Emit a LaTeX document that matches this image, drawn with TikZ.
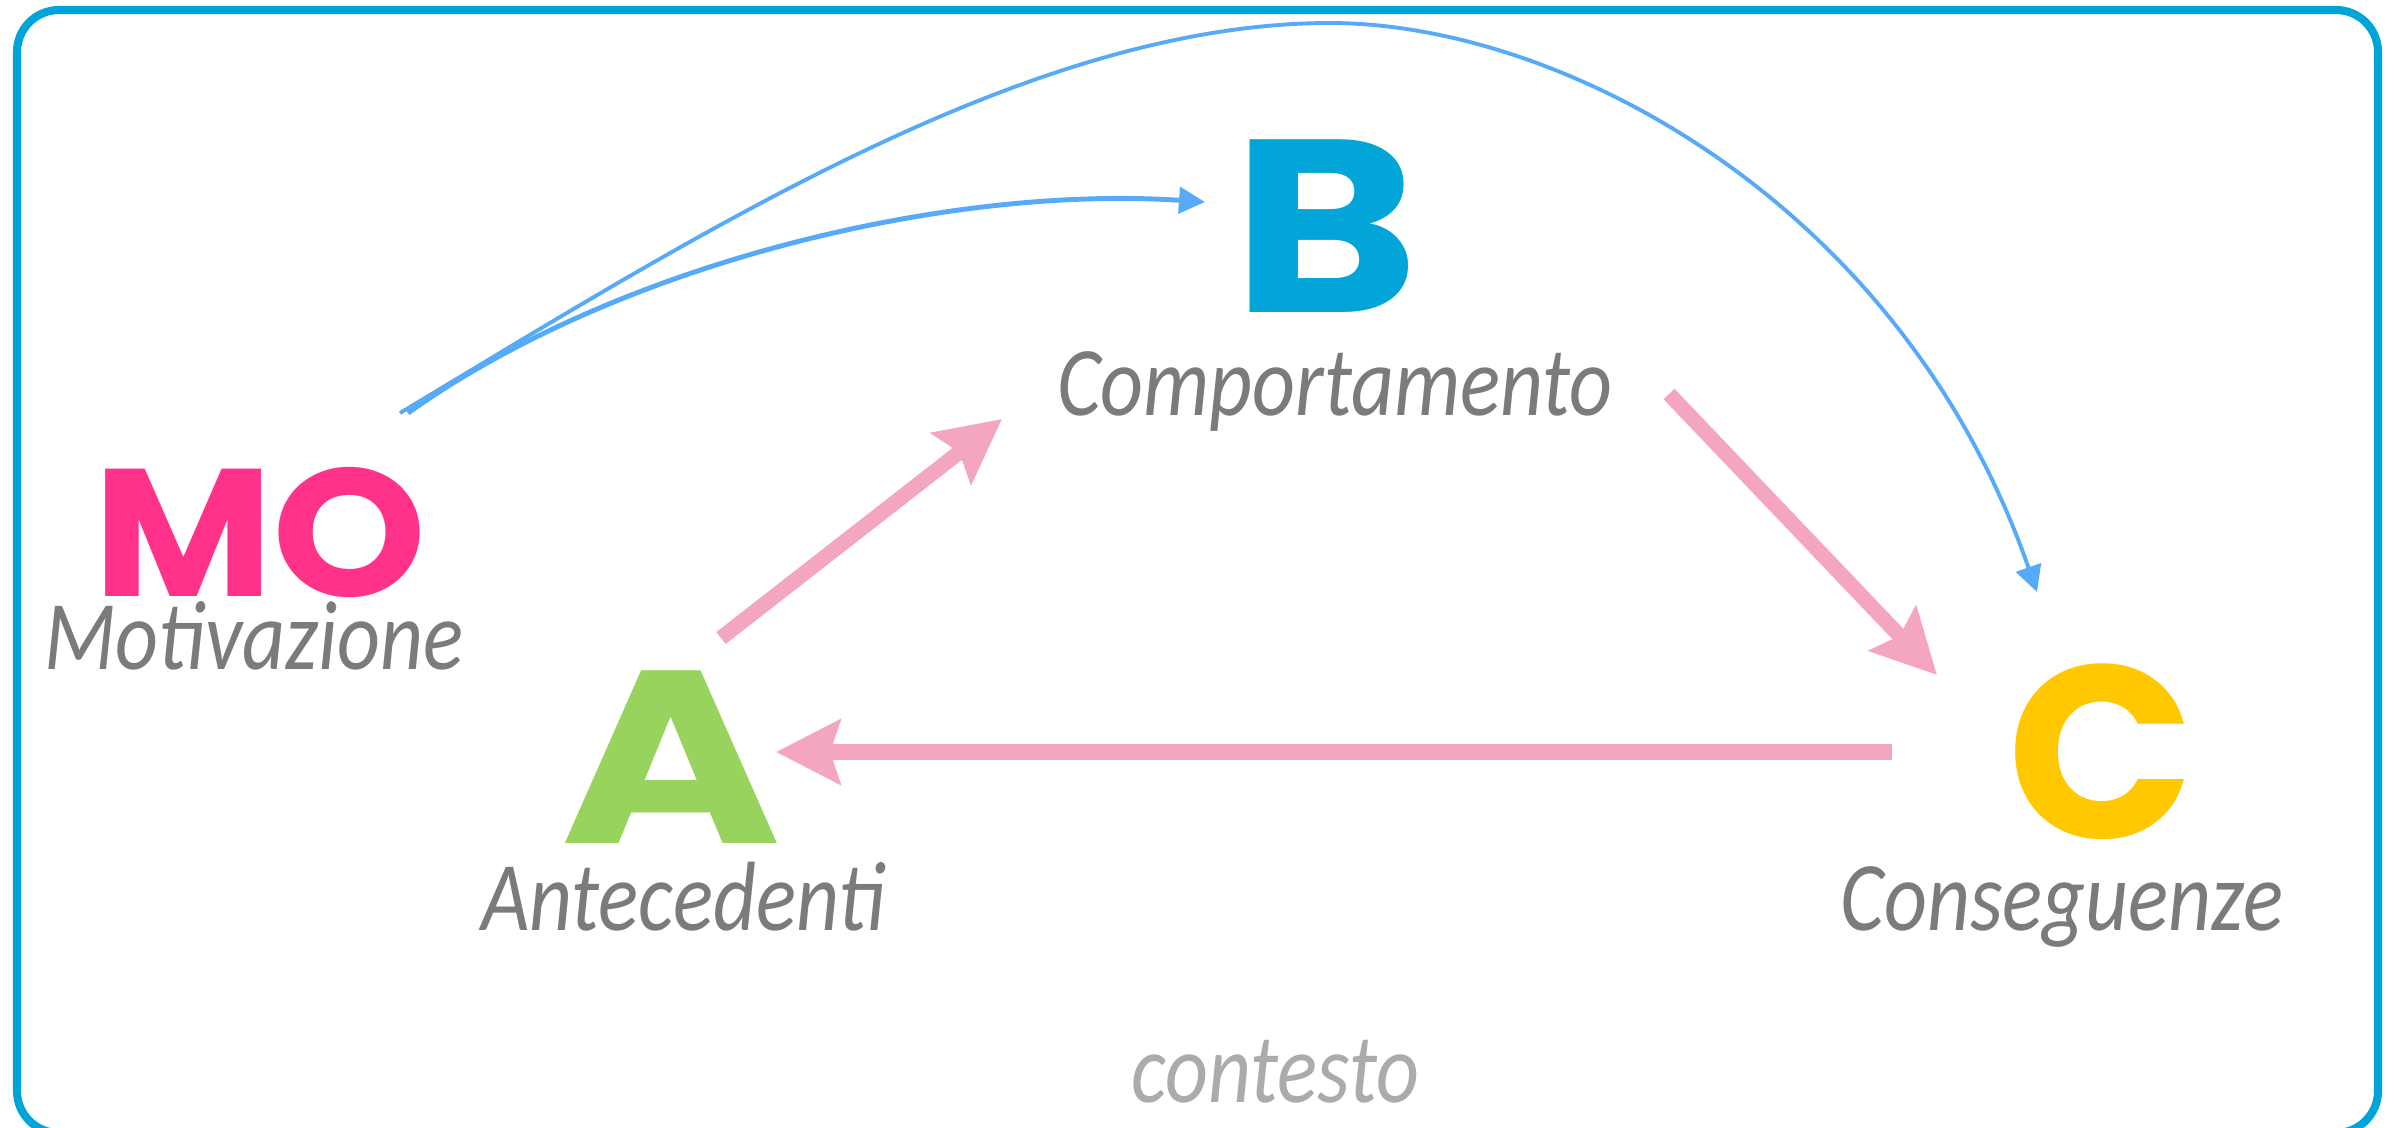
\documentclass[tikz,border=0pt]{standalone}
\usepackage{fontspec}
\usepackage{graphicx}
\usepackage{xcolor}
\usepackage{tikz}
\usetikzlibrary{arrows.meta}
\newfontfamily\letterfont{Poppins}
\newfontfamily\labelfont{Carlito}[FakeStretch=0.85]
\definecolor{boxblue}{HTML}{00A4D9}
\definecolor{mopink}{HTML}{FF3189}
\definecolor{bblue}{HTML}{02A5D8}
\definecolor{agreen}{HTML}{98D35E}
\definecolor{cyellow}{HTML}{FFC800}
\definecolor{labgray}{HTML}{7B7B7B}
\definecolor{ctxgray}{HTML}{ABABAB}
\definecolor{flowpink}{HTML}{F4A5C1}
\definecolor{linkblue}{HTML}{56AAF7}
\tikzset{
  box/.style={draw=boxblue, line width=2.3pt, rounded corners=4.2mm},
  letter/.style={inner sep=0pt, anchor=base, font=\letterfont\bfseries\fontsize{#1}{#1}\selectfont},
  lab/.style={inner sep=0pt, anchor=base, text=labgray, font=\labelfont\itshape\fontsize{28}{28}\selectfont},
  flow/.style={draw=flowpink, line width=4.3pt, -{Stealth[length=6.4mm,width=6.4mm,inset=1mm]}},
  link/.style={draw=linkblue, line width=1.4pt, -{Triangle[length=2.6mm,width=2.6mm]}}
}

\begin{document}
\begin{tikzpicture}[x=0.01cm, y=-0.01cm]
  \useasboundingbox (0,0) rectangle (2394,1127);
  \clip (0,0) rectangle (2394,1127);
  \draw[box] (17,10) rectangle (2378,1133);

  % letters and their labels
  \node[letter=51.6, text=mopink] (mo) at (260,596) {\scalebox{1.08}[1]{MO}};
  \node[lab] (molab) at (254,669) {Motivazione};
  \node[letter=70, text=bblue] (b) at (1326,312) {\scalebox{1.15}[1]{B}};
  \node[lab] (blab) at (1335,415) {Comportamento};
  \node[letter=70, text=agreen] (a) at (671,843) {\scalebox{1.22}[1]{A}};
  \node[lab] (alab) at (683,930) {Antecedenti};
  \node[letter=70, text=cyellow] (c) at (2101,838) {C};
  \node[lab] (clab) at (2062,930) {Conseguenze};
  \node[lab, text=ctxgray] (ctx) at (1275,1102) {contesto};

  % ends of the arrows
  \coordinate (ab0) at (721,638);
  \coordinate (ab1) at (1002,419);
  \coordinate (bc0) at (1669,394);
  \coordinate (bc1) at (1937,675);
  \coordinate (ca0) at (1892,752);
  \coordinate (ca1) at (776,752);
  \coordinate (mob) at (408,413);
  \coordinate (moc) at (400,413);
  \coordinate (tob) at (1205,202);
  \coordinate (toc) at (2037,592);
  \coordinate (top) at (1330,23);

  \draw[flow] (ab0) -- (ab1);
  \draw[flow] (bc0) -- (bc1);
  \draw[flow] (ca0) -- (ca1);

  \draw[link] (mob) .. controls (620,262) and (950,185) .. (tob);
  \draw[link, line width=1.1pt] (moc) .. controls (700,233) and (1030,23) .. (top)
    .. controls (1560,23) and (1900,200) .. (toc);
\end{tikzpicture}
\end{document}
